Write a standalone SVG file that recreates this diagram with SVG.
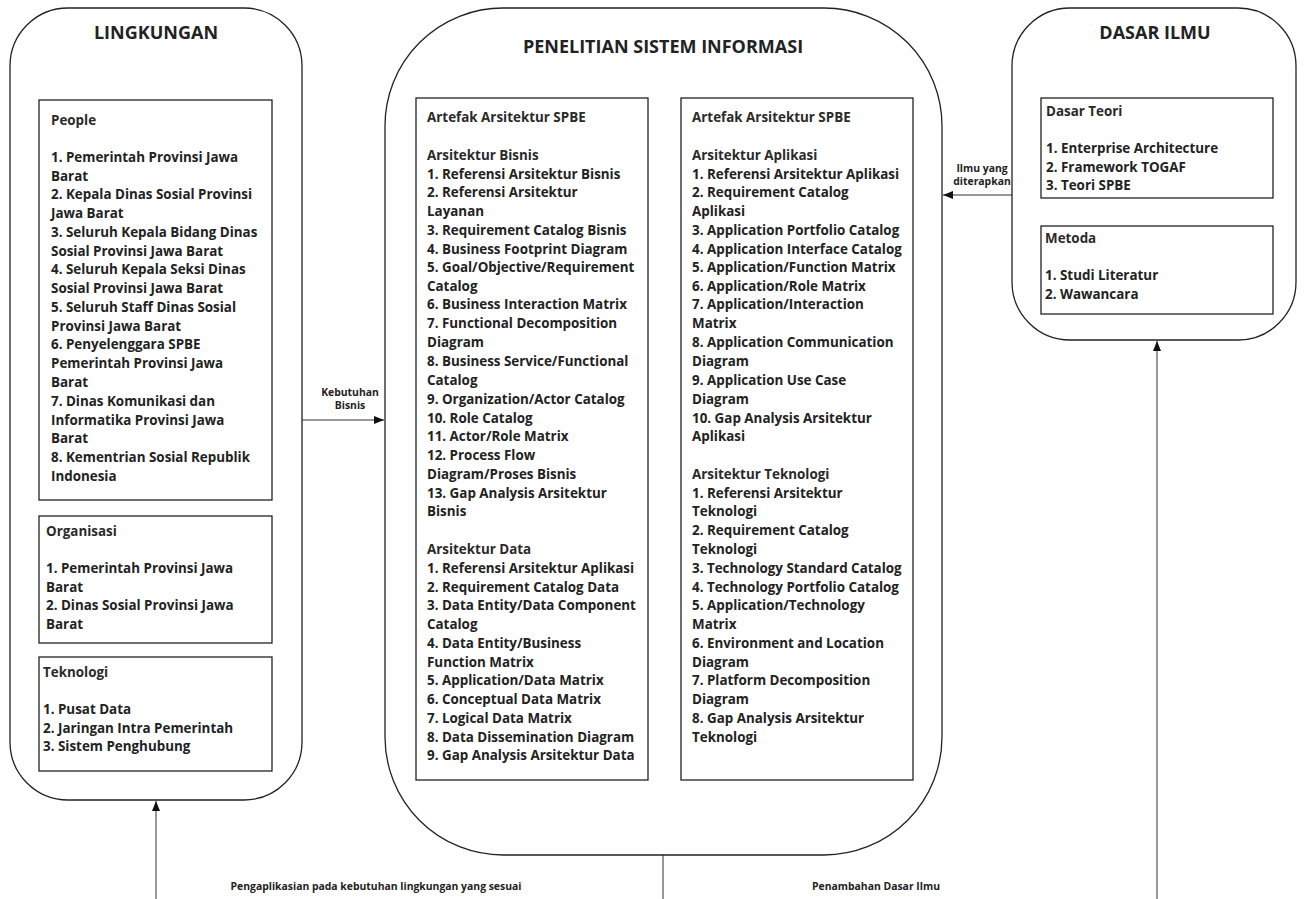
<svg xmlns="http://www.w3.org/2000/svg" width="1306" height="899" viewBox="0 0 1306 899">
  <style>
    .frame { fill: #fff; stroke: #222; stroke-width: 1.3; }
    .box { fill: #fff; stroke: #222; stroke-width: 1.3; }
    .title { font-family: "Open Sans", "Liberation Sans", sans-serif; font-weight: 700; font-size: 18px; fill: #222; text-anchor: middle; }
    .txt { font-family: "Open Sans", "Liberation Sans", sans-serif; font-weight: 700; font-size: 13.4px; fill: #222; }
    .hd { fill: #2a2a2a; }
    .lbl { font-family: "Open Sans", "Liberation Sans", sans-serif; font-weight: 700; font-size: 10.4px; fill: #222; text-anchor: middle; }
    .conn { fill: none; stroke: #333; stroke-width: 1; }
  </style>
  <defs>
    <marker id="arrow" viewBox="0 0 10 10" refX="10" refY="5" markerWidth="10" markerHeight="10" markerUnits="userSpaceOnUse" orient="auto">
      <path d="M0,1 L10,5 L0,9 Z" fill="#111"/>
    </marker>
  </defs>

  <rect width="1306" height="899" fill="#fff"/>

  <!-- Connectors -->
  <g id="connectors">
    <line class="conn" x1="302" y1="420" x2="384" y2="420" marker-end="url(#arrow)"/>
    <text class="lbl"><tspan x="350" y="396">Kebutuhan</tspan><tspan x="350" y="409">Bisnis</tspan></text>
    <line class="conn" x1="1012" y1="195" x2="943" y2="195" marker-end="url(#arrow)"/>
    <text class="lbl"><tspan x="982" y="172">Ilmu yang</tspan><tspan x="982" y="185">diterapkan</tspan></text>
    <path class="conn" d="M663,855 L663,900 L156,900 L156,801" marker-end="url(#arrow)"/>
    <path class="conn" d="M663,900 L1157,900 L1157,341" marker-end="url(#arrow)"/>
    <text class="lbl" x="376" y="890">Pengaplikasian pada kebutuhan lingkungan yang sesuai</text>
    <text class="lbl" x="876" y="890">Penambahan Dasar Ilmu</text>
  </g>

  <!-- LINGKUNGAN -->
  <g id="lingkungan">
    <rect class="frame" x="10" y="8" width="292" height="792" rx="58" ry="58"/>
    <text class="title" x="156" y="39">LINGKUNGAN</text>
    <g id="people">
      <rect class="box" x="39" y="100" width="233" height="400"/>
      <text class="txt">
        <tspan class="hd" x="51" y="125">People</tspan>
        <tspan x="51" y="162">1. Pemerintah Provinsi Jawa</tspan>
        <tspan x="51" y="181">Barat</tspan>
        <tspan x="51" y="199">2. Kepala Dinas Sosial Provinsi</tspan>
        <tspan x="51" y="218">Jawa Barat</tspan>
        <tspan x="51" y="237">3. Seluruh Kepala Bidang Dinas</tspan>
        <tspan x="51" y="256">Sosial Provinsi Jawa Barat</tspan>
        <tspan x="51" y="274">4. Seluruh Kepala Seksi Dinas</tspan>
        <tspan x="51" y="293">Sosial Provinsi Jawa Barat</tspan>
        <tspan x="51" y="312">5. Seluruh Staff Dinas Sosial</tspan>
        <tspan x="51" y="331">Provinsi Jawa Barat</tspan>
        <tspan x="51" y="349">6. Penyelenggara SPBE</tspan>
        <tspan x="51" y="368">Pemerintah Provinsi Jawa</tspan>
        <tspan x="51" y="387">Barat</tspan>
        <tspan x="51" y="406">7. Dinas Komunikasi dan</tspan>
        <tspan x="51" y="425">Informatika Provinsi Jawa</tspan>
        <tspan x="51" y="443">Barat</tspan>
        <tspan x="51" y="462">8. Kementrian Sosial Republik</tspan>
        <tspan x="51" y="481">Indonesia</tspan>
      </text>
    </g>
    <g id="organisasi">
      <rect class="box" x="39" y="516" width="233" height="127"/>
      <text class="txt">
        <tspan class="hd" x="46" y="536">Organisasi</tspan>
        <tspan x="46" y="573">1. Pemerintah Provinsi Jawa</tspan>
        <tspan x="46" y="592">Barat</tspan>
        <tspan x="46" y="610">2. Dinas Sosial Provinsi Jawa</tspan>
        <tspan x="46" y="629">Barat</tspan>
      </text>
    </g>
    <g id="teknologi">
      <rect class="box" x="39" y="657" width="233" height="114"/>
      <text class="txt">
        <tspan class="hd" x="43" y="677">Teknologi</tspan>
        <tspan x="43" y="714">1. Pusat Data</tspan>
        <tspan x="43" y="733">2. Jaringan Intra Pemerintah</tspan>
        <tspan x="43" y="751">3. Sistem Penghubung</tspan>
      </text>
    </g>
  </g>

  <!-- PENELITIAN SISTEM INFORMASI -->
  <g id="penelitian">
    <rect class="frame" x="385" y="8" width="557" height="847" rx="118" ry="118"/>
    <text class="title" x="663" y="53">PENELITIAN SISTEM INFORMASI</text>
    <g id="artefak-bisnis-data">
      <rect class="box" x="416" y="98" width="232" height="682"/>
      <text class="txt">
        <tspan class="hd" x="427" y="122">Artefak Arsitektur SPBE</tspan>
        <tspan class="hd" x="427" y="160">Arsitektur Bisnis</tspan>
        <tspan x="427" y="179">1. Referensi Arsitektur Bisnis</tspan>
        <tspan x="427" y="197">2. Referensi Arsitektur</tspan>
        <tspan x="427" y="216">Layanan</tspan>
        <tspan x="427" y="235">3. Requirement Catalog Bisnis</tspan>
        <tspan x="427" y="254">4. Business Footprint Diagram</tspan>
        <tspan x="427" y="272">5. Goal/Objective/Requirement</tspan>
        <tspan x="427" y="291">Catalog</tspan>
        <tspan x="427" y="309">6. Business Interaction Matrix</tspan>
        <tspan x="427" y="328">7. Functional Decomposition</tspan>
        <tspan x="427" y="347">Diagram</tspan>
        <tspan x="427" y="366">8. Business Service/Functional</tspan>
        <tspan x="427" y="385">Catalog</tspan>
        <tspan x="427" y="404">9. Organization/Actor Catalog</tspan>
        <tspan x="427" y="423">10. Role Catalog</tspan>
        <tspan x="427" y="441">11. Actor/Role Matrix</tspan>
        <tspan x="427" y="460">12. Process Flow</tspan>
        <tspan x="427" y="479">Diagram/Proses Bisnis</tspan>
        <tspan x="427" y="498">13. Gap Analysis Arsitektur</tspan>
        <tspan x="427" y="516">Bisnis</tspan>
        <tspan class="hd" x="427" y="554">Arsitektur Data</tspan>
        <tspan x="427" y="573">1. Referensi Arsitektur Aplikasi</tspan>
        <tspan x="427" y="592">2. Requirement Catalog Data</tspan>
        <tspan x="427" y="610">3. Data Entity/Data Component</tspan>
        <tspan x="427" y="629">Catalog</tspan>
        <tspan x="427" y="648">4. Data Entity/Business</tspan>
        <tspan x="427" y="667">Function Matrix</tspan>
        <tspan x="427" y="685">5. Application/Data Matrix</tspan>
        <tspan x="427" y="704">6. Conceptual Data Matrix</tspan>
        <tspan x="427" y="723">7. Logical Data Matrix</tspan>
        <tspan x="427" y="742">8. Data Dissemination Diagram</tspan>
        <tspan x="427" y="760">9. Gap Analysis Arsitektur Data</tspan>
      </text>
    </g>
    <g id="artefak-aplikasi-teknologi">
      <rect class="box" x="681" y="98" width="232" height="682"/>
      <text class="txt">
        <tspan class="hd" x="692" y="122">Artefak Arsitektur SPBE</tspan>
        <tspan class="hd" x="692" y="160">Arsitektur Aplikasi</tspan>
        <tspan x="692" y="179">1. Referensi Arsitektur Aplikasi</tspan>
        <tspan x="692" y="197">2. Requirement Catalog</tspan>
        <tspan x="692" y="216">Aplikasi</tspan>
        <tspan x="692" y="235">3. Application Portfolio Catalog</tspan>
        <tspan x="692" y="254">4. Application Interface Catalog</tspan>
        <tspan x="692" y="272">5. Application/Function Matrix</tspan>
        <tspan x="692" y="291">6. Application/Role Matrix</tspan>
        <tspan x="692" y="309">7. Application/Interaction</tspan>
        <tspan x="692" y="328">Matrix</tspan>
        <tspan x="692" y="347">8. Application Communication</tspan>
        <tspan x="692" y="366">Diagram</tspan>
        <tspan x="692" y="385">9. Application Use Case</tspan>
        <tspan x="692" y="404">Diagram</tspan>
        <tspan x="692" y="423">10. Gap Analysis Arsitektur</tspan>
        <tspan x="692" y="441">Aplikasi</tspan>
        <tspan class="hd" x="692" y="479">Arsitektur Teknologi</tspan>
        <tspan x="692" y="498">1. Referensi Arsitektur</tspan>
        <tspan x="692" y="516">Teknologi</tspan>
        <tspan x="692" y="535">2. Requirement Catalog</tspan>
        <tspan x="692" y="554">Teknologi</tspan>
        <tspan x="692" y="573">3. Technology Standard Catalog</tspan>
        <tspan x="692" y="592">4. Technology Portfolio Catalog</tspan>
        <tspan x="692" y="610">5. Application/Technology</tspan>
        <tspan x="692" y="629">Matrix</tspan>
        <tspan x="692" y="648">6. Environment and Location</tspan>
        <tspan x="692" y="667">Diagram</tspan>
        <tspan x="692" y="685">7. Platform Decomposition</tspan>
        <tspan x="692" y="704">Diagram</tspan>
        <tspan x="692" y="723">8. Gap Analysis Arsitektur</tspan>
        <tspan x="692" y="742">Teknologi</tspan>
      </text>
    </g>
  </g>

  <!-- DASAR ILMU -->
  <g id="dasar-ilmu">
    <rect class="frame" x="1012" y="8" width="284" height="332" rx="58" ry="58"/>
    <text class="title" x="1155" y="39">DASAR ILMU</text>
    <g id="dasar-teori">
      <rect class="box" x="1041" y="98" width="232" height="100"/>
      <text class="txt">
        <tspan class="hd" x="1046" y="116">Dasar Teori</tspan>
        <tspan x="1046" y="153">1. Enterprise Architecture</tspan>
        <tspan x="1046" y="172">2. Framework TOGAF</tspan>
        <tspan x="1046" y="190">3. Teori SPBE</tspan>
      </text>
    </g>
    <g id="metoda">
      <rect class="box" x="1041" y="226" width="232" height="88"/>
      <text class="txt">
        <tspan class="hd" x="1045" y="243">Metoda</tspan>
        <tspan x="1045" y="280">1. Studi Literatur</tspan>
        <tspan x="1045" y="299">2. Wawancara</tspan>
      </text>
    </g>
  </g>
</svg>
